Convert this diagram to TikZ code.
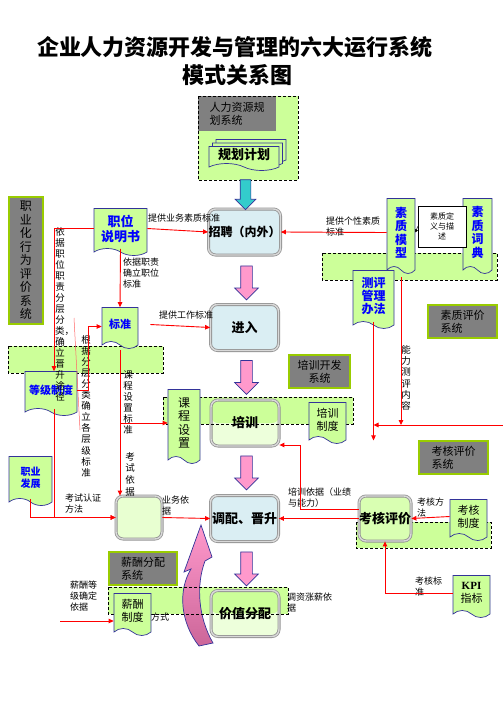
\documentclass[tikz,border=0pt]{standalone}
\usepackage{fontspec}
\setmainfont{Noto Sans CJK SC}
\newfontfamily\kpifont{Liberation Serif}
\XeTeXlinebreaklocale "zh"
\XeTeXlinebreakskip=0pt plus 1pt
\usetikzlibrary{positioning,shapes.symbols,shapes.arrows,shadows,arrows.meta}

\definecolor{bandgreen}{RGB}{204,255,153}
\definecolor{sysgray}{RGB}{128,128,128}
\definecolor{sysedge}{RGB}{153,204,0}
\definecolor{navyline}{RGB}{51,51,153}
\definecolor{boxblue}{RGB}{218,238,243}
\definecolor{pinkarrow}{RGB}{255,153,204}
\definecolor{tealarrow}{RGB}{51,204,204}
\definecolor{mauve}{RGB}{204,102,153}
\definecolor{textblue}{RGB}{0,0,255}

\tikzset{
	stage/.style = {shape=rectangle, rounded corners=7pt, draw=gray!85, double=gray!30, double distance=1.4pt, line width=0.8pt, minimum width=68pt, minimum height=46pt, inner sep=0pt, font=\fontsize{13}{15}\selectfont\bfseries},
	stageblue/.style = {stage, fill=boxblue},
	stagegreen/.style = {stage, fill=bandgreen!35!white, path picture={\fill[bandgreen] (path picture bounding box.north west) rectangle (path picture bounding box.east);}},
	doc/.style = {shape=tape, tape bend top=none, tape bend bottom=out and in, tape bend height=7pt, draw=navyline, line width=0.7pt, fill=bandgreen, align=center, inner sep=1pt},
	docblue/.style = {doc, text=textblue},
	sys/.style = {shape=rectangle, fill=sysgray, draw=sysedge, line width=1.2pt, align=left, inner sep=2pt, font=\fontsize{11}{13}\selectfont},
	vtext/.style = {text width=#1, align=center, inner sep=0pt},
	vtext/.default = 10pt,
	note/.style = {align=left, inner sep=0pt, font=\fontsize{9}{10.7}\selectfont},
	bandline/.style = {draw=black, line width=0.8pt, dash pattern=on 3pt off 2pt},
	band/.style = {bandline, fill=bandgreen},
	link/.style = {draw=red, line width=0.9pt, -{Triangle[length=5pt,width=4.5pt]}},
	pinkdown/.style = {shape=single arrow, rotate=-90, draw=navyline, line width=0.7pt, fill=pinkarrow, inner xsep=0pt, inner ysep=5.5pt, single arrow head extend=6pt, minimum height=34pt},
	tealdown/.style = {pinkdown, fill=tealarrow, inner ysep=5pt, single arrow head extend=5pt, minimum height=30pt},
}

\begin{document}
\begin{tikzpicture}[x=1pt, y=-1pt]
		\useasboundingbox (0,0) rectangle (503,726);

		% title
		\node[font=\fontsize{22}{26}\selectfont\bfseries] (title1) at (235,47) {企业人力资源开发与管理的六大运行系统};
		\node[font=\fontsize{22}{26}\selectfont\bfseries] (title2) at (237,75) {模式关系图};

		% bands
		\fill[bandgreen] (198,96) rectangle (298,180);
		\node[sys, draw=none, minimum width=78pt, minimum height=35pt] (plansys) at (237,113.5) {人力资源规\\划系统};
		\draw[bandline] (198,96) rectangle (298,180);
		\draw[band] (8,346) rectangle (163,373);
		\draw[band] (322,253) rectangle (497,280);
		\draw[band] (356,522) rectangle (491,548);
		\fill[bandgreen] (163,397) rectangle (353,424);
		\fill[bandgreen] (108,587) rectangle (288,614);

		% curved arrow
		\path[draw=navyline, line width=0.7pt, top color=pinkarrow, middle color=pinkarrow, bottom color=mauve]
			(201,525) -- (212,557) -- (205,561) .. controls (196,585) and (198,617) .. (213,643)
			-- (199,646) .. controls (180,622) and (178,590) .. (191,569) -- (184,572) -- cycle;

		% stages
		\node[stageblue, font=\fontsize{12}{14}\selectfont\bfseries] (recruit) at (244.5,232) {招聘（内外）};
		\node[stageblue] (enter) at (244.5,327.5) {进入};
		\node[stagegreen] (train) at (245,423) {培训};
		\node[stageblue] (promote) at (244.5,518.5) {调配、晋升};
		\node[stagegreen] (value) at (245,613.5) {价值分配};
		\node[stage, fill=bandgreen!45!white, minimum width=46pt, minimum height=43pt] (exam) at (139,517.5) {};
		\node[stage, fill=bandgreen!75!white, minimum width=46pt, minimum height=45pt] (assess) at (385,518.5) {考核评价};

		\draw[bandline] (163,397) rectangle (353,424);
		\draw[bandline] (108,587) rectangle (288,614);

		% documents
		\node[doc, minimum width=70pt, minimum height=24pt, font=\fontsize{13}{15}\selectfont\bfseries, double copy shadow={shadow xshift=3.5pt, shadow yshift=3.5pt}] (plan) at (244,155) {规划计划};
		\node[docblue, minimum width=53pt, minimum height=47pt, font=\fontsize{13}{15}\selectfont\bfseries] (jobdesc) at (120.5,228.5) {职位\\说明书};
		\node[docblue, minimum width=36pt, minimum height=41pt, font=\fontsize{11}{13}\selectfont\bfseries] (std) at (120,324.5) {标准};
		\node[docblue, minimum width=52pt, minimum height=44pt, font=\fontsize{11}{13}\selectfont\bfseries] (grade) at (51,390) {等级制度};
		\node[docblue, minimum width=43pt, minimum height=49pt, font=\fontsize{10}{12}\selectfont\bfseries] (career) at (30.5,477.5) {职业\\发展};
		\node[doc, minimum width=32pt, minimum height=74pt, text width=13pt, font=\fontsize{12}{13.5}\selectfont] (course) at (184,423) {课程设置};
		\node[doc, minimum width=37pt, minimum height=41pt, font=\fontsize{11}{13}\selectfont] (traindoc) at (327.5,419.5) {培训\\制度};
		\node[docblue, minimum width=28pt, minimum height=75pt, text width=12pt, font=\fontsize{12}{13.5}\selectfont\bfseries] (model) at (401,232.5) {素质模型};
		\node[docblue, minimum width=29pt, minimum height=75pt, text width=12pt, font=\fontsize{12}{13.5}\selectfont\bfseries] (dict) at (477.5,232.5) {素质词典};
		\node[draw, fill=white, line width=0.6pt, minimum width=48pt, minimum height=41pt, inner sep=1pt, align=center, font=\fontsize{8}{10}\selectfont] (define) at (442,226.5) {素质定\\义与描\\述};
		\node[docblue, minimum width=41pt, minimum height=58pt, font=\fontsize{12}{13}\selectfont\bfseries] (method) at (373.5,296) {测评\\管理\\办法};
		\node[doc, minimum width=37pt, minimum height=41pt, font=\fontsize{11}{13}\selectfont] (rule) at (468.5,516.5) {考核\\制度};
		\node[doc, minimum width=37pt, minimum height=42pt, font=\fontsize{11}{13}\selectfont] (kpi) at (471.5,593) {{\kpifont\bfseries KPI}\\指标};
		\node[doc, minimum width=37pt, minimum height=42pt, font=\fontsize{11}{13}\selectfont] (paydoc) at (132.5,611) {薪酬\\制度};

		% systems
		\node[sys, vtext=13pt, minimum width=34pt, minimum height=127pt, font=\fontsize{12}{13.5}\selectfont] (profsys) at (26,260.5) {职业化行为评价系统};
		\node[sys, minimum width=69pt, minimum height=33pt] (qualsys) at (462.5,321.5) {素质评价\\系统};
		\node[sys, align=center, minimum width=61pt, minimum height=33pt] (trainsys) at (319.5,371.5) {培训开发\\系统};
		\node[sys, minimum width=69pt, minimum height=33pt] (appsys) at (453.5,457.5) {考核评价\\系统};
		\node[sys, minimum width=68pt, minimum height=33pt] (paysys) at (143,568.5) {薪酬分配\\系统};

		% block arrows
		\node[tealdown] (a0) at (245.5,192) {};
		\node[pinkdown] (a1) at (246.5,280) {};
		\node[pinkdown] (a2) at (246.5,374.5) {};
		\node[pinkdown] (a3) at (246.5,470) {};
		\node[pinkdown] (a4) at (246.5,566) {};

		% labels
		\node[note, anchor=west] (l-biz) at (148,218) {提供业务素质标准};
		\node[note, anchor=north west] (l-duty) at (123,258) {依据职责\\确立职位\\标准};
		\node[note, anchor=north west] (l-pers) at (326,217) {提供个性素质\\标准};
		\node[note, anchor=west] (l-work) at (159,315) {提供工作标准};
		\node[vtext, font=\fontsize{9.5}{11}\selectfont] (l-path) at (60,314) {依据职位职责分层分类，确立晋升途径};
		\node[vtext, font=\fontsize{9.5}{11.1}\selectfont] (l-level) at (86,406) {根据分层分类确立各层级标准};
		\node[vtext, font=\fontsize{9.5}{11}\selectfont] (l-course) at (128,402) {课程设置标准};
		\node[vtext, font=\fontsize{9.5}{11.7}\selectfont] (l-examref) at (130,474) {考试依据};
		\node[vtext, font=\fontsize{9.5}{11.3}\selectfont] (l-ability) at (406,378) {能力测评内容};
		\node[note, anchor=north west] (l-cert) at (65,494) {考试认证\\方法};
		\node[note, anchor=north west] (l-bizref) at (162,496) {业务依\\据};
		\node[note, anchor=north west] (l-trainref) at (288,488) {培训依据（业绩\\与能力）};
		\node[note, anchor=north west] (l-way) at (417,498) {考核方\\法};
		\node[note, anchor=north west] (l-kpi) at (415,577) {考核标\\准};
		\node[note, anchor=north west] (l-paylvl) at (70,581) {薪酬等\\级确定\\依据};
		\node[note, anchor=west] (l-payway) at (151,617) {方式};
		\node[note, anchor=north west] (l-raise) at (287,593) {调资涨薪依\\据};

		% connectors
		\coordinate (rightin) at (503,425);
		\coordinate (payin) at (60,621);
		\coordinate (stray-top) at (74,318);
		\coordinate (stray-bot) at (80,430);

		\draw[red!60, line width=0.5pt] (stray-top) -- (stray-bot);
		\draw[link] (jobdesc.east) -- (recruit.west);
		\draw[link] (jobdesc.west) -| ([xshift=3pt]grade.north);
		\draw[link] (jobdesc.south) -- (std.north);
		\draw[link] ([xshift=12pt]std.east) -- (enter.west);
		\draw[link] (grade.east) -- ++(11,0) |- ([yshift=-2pt]std.west);
		\draw[link] ([xshift=3pt]grade.south) |- (exam.west);
		\draw[link] (career.south) |- (exam.west);
		\draw[link] ([yshift=-8pt]std.south) -- (std.south |- exam.north);
		\draw[link] (std.south |- course.west) -- (course.west);
		\draw[link] (exam.east) -- (promote.west);
		\draw[link] (model.west) -- (recruit.east);
		\draw[-{Triangle[length=3pt,width=3pt]}, line width=0.5pt] (define.west) -- (model.east);
		\draw[link] (method.south) -- (method.south |- appsys.north);
		\draw[link] (rightin) -- (method.south |- rightin);
		\draw[link] ([yshift=-10pt]model.south) -- (model.south |- rightin);
		\draw[link] (rule.west) -- (assess.east);
		\draw[link] (assess.west) -- (promote.east);
		\draw[link] ([yshift=9pt]assess.west) -- ++(-58,0) |- ([yshift=-22pt]train.east);
		\draw[link] (kpi.west) -| (assess.south);
		\draw[link] (payin) -- (paydoc.west |- payin);
	\end{tikzpicture}
\end{document}
